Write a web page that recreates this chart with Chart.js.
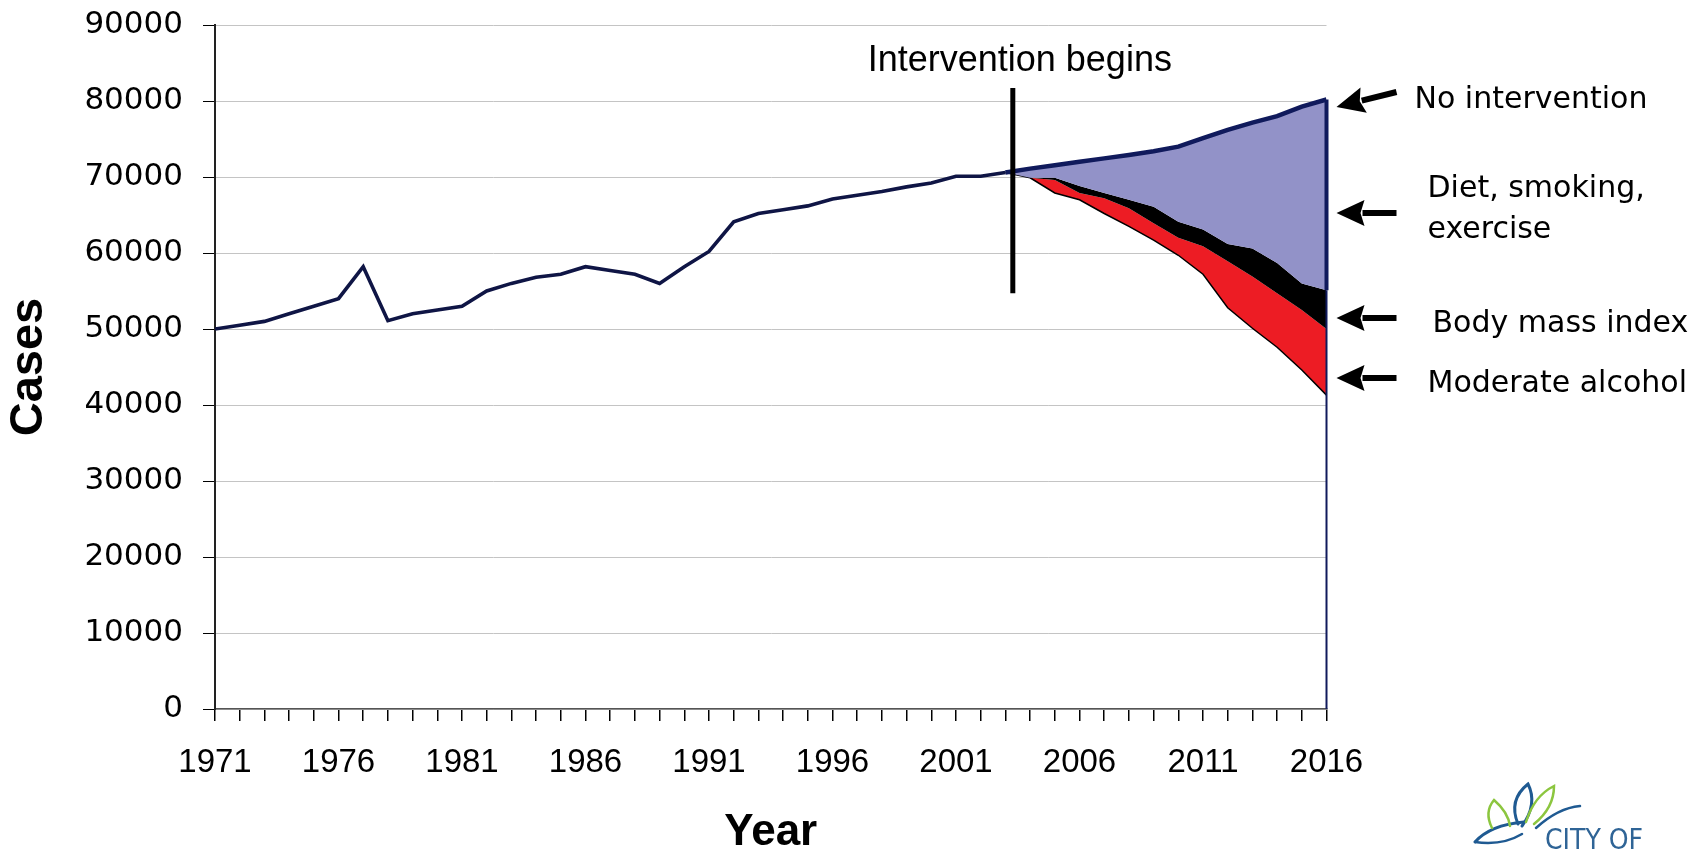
<!DOCTYPE html>
<html><head><meta charset="utf-8">
<script src="https://cdn.jsdelivr.net/npm/chart.js@4.4.1/dist/chart.umd.min.js"></script>
<style>
html,body{margin:0;padding:0;background:#fff;overflow:hidden}
#wrap{position:relative;width:1706px;height:850px}
canvas{position:absolute;left:0;top:0}
#logo{position:absolute;left:1470px;top:778px}
</style></head><body>
<div id="wrap">
<canvas id="c" width="1706" height="850"></canvas>
<svg id="logo" width="236" height="74" viewBox="0 0 236 74">
  <g fill="none" stroke-linecap="round">
    <path d="M5,64 Q20,47 54,44" stroke="#1f5a92" stroke-width="3"/>
    <path d="M5,64 Q32,68 52,56" stroke="#1f5a92" stroke-width="2.5"/>
    <path d="M22,50 Q14,34 24,22 Q38,34 40,48" stroke="#8cc63f" stroke-width="2.5"/>
    <path d="M48,46 Q38,22 58,6 Q68,26 52,48" stroke="#1f5a92" stroke-width="3"/>
    <path d="M56,44 Q64,18 84,8 Q84,30 64,46" stroke="#8cc63f" stroke-width="2.5"/>
    <path d="M66,50 Q88,30 110,28" stroke="#1f5a92" stroke-width="2.5"/>
  </g>
  <text x="75" y="71" font-family="'Liberation Sans Narrow','DejaVu Sans Condensed',sans-serif" font-size="28" fill="#2f6496">CITY OF</text>
</svg>
</div>
<script>
// ---- data ----
const histYears = [1971,1972,1973,1974,1975,1976,1977,1978,1979,1980,1981,1982,1983,1984,1985,1986,1987,1988,1989,1990,1991,1992,1993,1994,1995,1996,1997,1998,1999,2000,2001,2002,2003];
const histCases = [50000,50500,51000,52000,53000,54000,58200,51100,52000,52500,53000,55000,56000,56800,57200,58200,57700,57200,56000,58200,60200,64100,65200,65700,66200,67100,67600,68100,68700,69200,70100,70100,70600];
const projYears = [2003,2004,2005,2006,2007,2008,2009,2010,2011,2012,2013,2014,2015,2016];
const noIntervention      = [70600,71100,71550,72000,72450,72900,73400,74000,75100,76200,77150,78000,79250,80200];
const dietSmokingExercise = [70600,69900,69900,68800,67900,67000,66100,64100,63100,61200,60600,58700,56000,55100];
const bodyMassIndex       = [70600,69900,69600,67900,67200,65900,63900,62000,60900,58900,56900,54700,52500,50000];
const moderateAlcohol     = [70600,69900,67900,67000,65200,63500,61700,59700,57200,52800,50100,47600,44600,41300];
const yearLabels = [1971,1976,1981,1986,1991,1996,2001,2006,2011,2016];
const caseTickStep = 10000;
const caseMax = 90000;
const interventionYear = 2003.3;
const interventionSpan = [54700, 81700];

const pts = (xs, ys) => xs.map((x, i) => ({x: x, y: ys[i]}));

const annot = {
  id: 'annot',
  afterDatasetsDraw(chart) {
    const {ctx, chartArea: ca, scales: {x, y}} = chart;
    const xr = x.getPixelForValue(projYears[projYears.length - 1]);
    const last = a => a[a.length - 1];
    ctx.save();
    ctx.strokeStyle = '#101a5c';
    ctx.lineWidth = 2;
    ctx.beginPath();
    ctx.moveTo(xr, y.getPixelForValue(last(dietSmokingExercise)));
    ctx.lineTo(xr, y.getPixelForValue(0));
    ctx.stroke();
    ctx.lineWidth = 4;
    ctx.beginPath();
    ctx.moveTo(xr, y.getPixelForValue(last(noIntervention)));
    ctx.lineTo(xr, y.getPixelForValue(last(dietSmokingExercise)));
    ctx.stroke();
    const xi = x.getPixelForValue(interventionYear);
    const yTop = y.getPixelForValue(interventionSpan[1]);
    ctx.strokeStyle = '#000';
    ctx.lineWidth = 5;
    ctx.beginPath();
    ctx.moveTo(xi, yTop);
    ctx.lineTo(xi, y.getPixelForValue(interventionSpan[0]));
    ctx.stroke();
    ctx.fillStyle = '#000';
    ctx.font = '36px "Liberation Sans", Arial, sans-serif';
    ctx.textAlign = 'center';
    ctx.textBaseline = 'alphabetic';
    ctx.fillText('Intervention begins', xi + 7, yTop - 17);
    const R = ca.right;
    const arrow = (tx, ty, hx, hy) => {
      const ang = Math.atan2(hy - ty, hx - tx);
      const hl = 28, hh = 13;
      const bx = hx - hl * Math.cos(ang), by = hy - hl * Math.sin(ang);
      ctx.lineWidth = 6;
      ctx.beginPath(); ctx.moveTo(tx, ty); ctx.lineTo(bx + 2 * Math.cos(ang), by + 2 * Math.sin(ang)); ctx.stroke();
      ctx.beginPath();
      ctx.moveTo(hx, hy);
      ctx.lineTo(bx + hh * Math.sin(ang), by - hh * Math.cos(ang));
      ctx.lineTo(bx + 4 * Math.cos(ang), by + 4 * Math.sin(ang));
      ctx.lineTo(bx - hh * Math.sin(ang), by + hh * Math.cos(ang));
      ctx.closePath(); ctx.fill();
    };
    arrow(R + 70, 92, R + 10, 107);
    arrow(R + 70, 213, R + 10, 213);
    arrow(R + 70, 318, R + 10, 318);
    arrow(R + 70, 378, R + 10, 378);
    ctx.font = '30px "DejaVu Sans", Verdana, sans-serif';
    ctx.textAlign = 'left';
    ctx.fillText('No intervention', R + 88, 108);
    ctx.fillText('Diet, smoking,', R + 101, 197);
    ctx.fillText('exercise', R + 101, 238);
    ctx.fillText('Body mass index', R + 106, 332);
    ctx.fillText('Moderate alcohol', R + 101, 392);
    ctx.restore();
  }
};

new Chart(document.getElementById('c'), {
  type: 'line',
  data: {
    datasets: [
      {label: 'Cases', data: pts(histYears, histCases), borderColor: '#0f1545', borderWidth: 3.6, pointRadius: 0, fill: false, tension: 0, order: 0},
      {label: 'No intervention', data: pts(projYears, noIntervention), borderColor: '#101a5c', borderWidth: 4.5, backgroundColor: '#9292c8', pointRadius: 0, fill: 2, tension: 0, order: 1},
      {label: 'Diet, smoking, exercise', data: pts(projYears, dietSmokingExercise), borderWidth: 0, borderColor: 'rgba(0,0,0,0)', backgroundColor: '#000000', pointRadius: 0, fill: 3, tension: 0, order: 3},
      {label: 'Body mass index', data: pts(projYears, bodyMassIndex), borderWidth: 0, borderColor: 'rgba(0,0,0,0)', backgroundColor: '#ed1c24', pointRadius: 0, fill: 4, tension: 0, order: 4},
      {label: 'Moderate alcohol', data: pts(projYears, moderateAlcohol), borderColor: '#000000', borderWidth: 1.5, pointRadius: 0, fill: false, tension: 0, order: 2}
    ]
  },
  options: {
    responsive: false,
    animation: false,
    events: [],
    layout: {padding: {left: 0, top: 25, right: 379.5, bottom: 0}},
    plugins: {legend: {display: false}, tooltip: {enabled: false}},
    scales: {
      x: {
        type: 'linear',
        min: histYears[0],
        max: projYears[projYears.length - 1],
        afterFit: s => { s.height = 141; },
        border: {display: true, color: '#555', width: 1.5},
        grid: {drawOnChartArea: false, drawTicks: true, tickLength: 12, tickColor: '#000', lineWidth: 1.5},
        ticks: {
          stepSize: 1, autoSkip: false, maxRotation: 0, minRotation: 0, maxTicksLimit: 200,
          padding: 22, color: '#000',
          font: {family: '"Liberation Sans", Arial, sans-serif', size: 33},
          callback: v => yearLabels.includes(v) ? String(v) : ''
        },
        title: {display: true, text: 'Year', color: '#000',
          font: {family: '"Liberation Sans", Arial, sans-serif', size: 44, weight: 'bold', lineHeight: 1},
          padding: {top: 0, bottom: -5}}
      },
      y: {
        type: 'linear',
        min: 0,
        max: caseMax,
        afterFit: s => { s.width = 215; s.paddingTop = 0; s.paddingBottom = 0; },
        border: {display: true, color: '#222', width: 2},
        grid: {color: '#c4c4c4', lineWidth: 1, drawTicks: true, tickLength: 12, tickColor: '#000'},
        ticks: {
          stepSize: caseTickStep, padding: 20, color: '#000',
          font: {family: '"DejaVu Sans", Verdana, sans-serif', size: 31},
          callback: v => String(v)
        },
        title: {display: true, text: 'Cases', color: '#000',
          font: {family: '"Liberation Sans", Arial, sans-serif', size: 47, weight: 'bold', lineHeight: 1},
          padding: {top: 6, bottom: 0}}
      }
    }
  },
  plugins: [annot]
});
</script>
</body></html>
